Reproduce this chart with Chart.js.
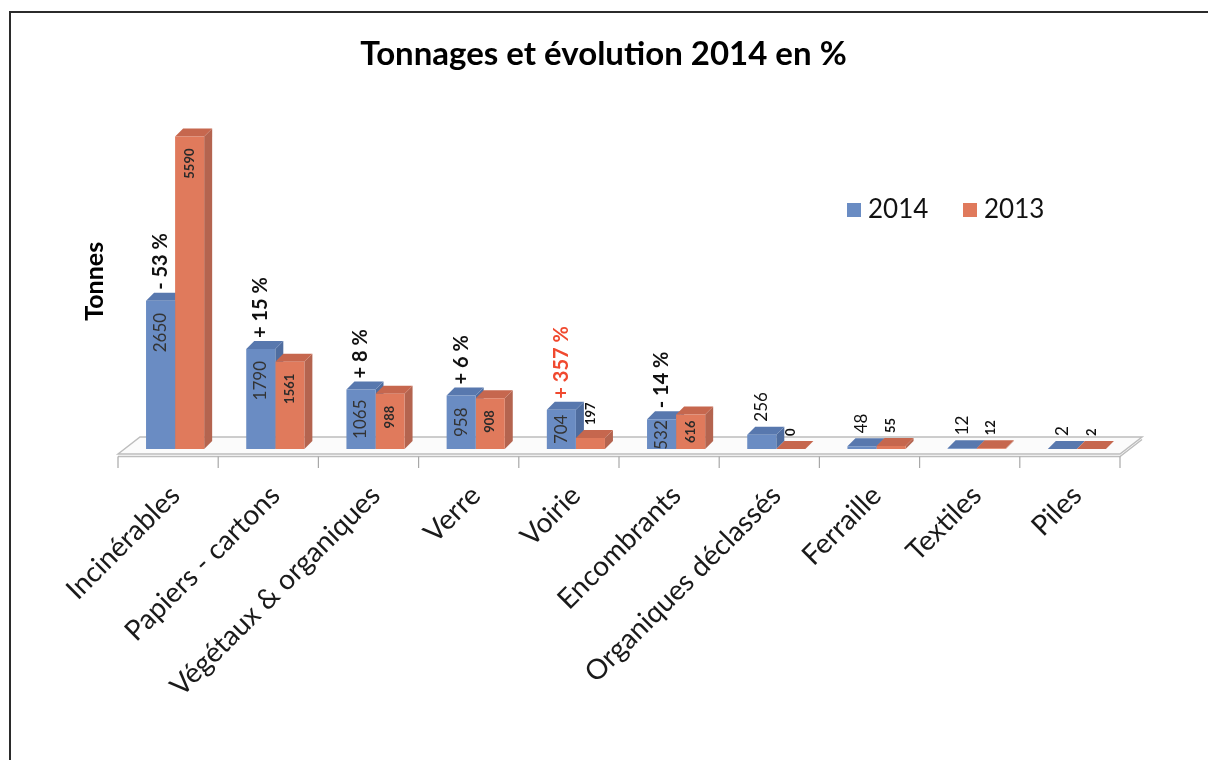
<!DOCTYPE html>
<html>
<head>
<meta charset="utf-8">
<script src="https://cdn.jsdelivr.net/npm/chart.js@4.4.0/dist/chart.umd.min.js"></script>
<style>
  html, body { margin: 0; padding: 0; background: #fff; }
  #wrap { width: 1208px; height: 760px; position: relative; }
</style>
</head>
<body>
<div id="wrap"><canvas id="tonnageChart" width="1208" height="760"></canvas></div>
<script>
const categories = ['Incinérables', 'Papiers - cartons', 'Végétaux & organiques', 'Verre', 'Voirie',
  'Encombrants', 'Organiques déclassés', 'Ferraille', 'Textiles', 'Piles'];
const tonnes2014 = [2650, 1790, 1065, 958, 704, 532, 256, 48, 12, 2];
const tonnes2013 = [5590, 1561, 988, 908, 197, 616, 0, 55, 12, 2];
const evolution = ['- 53 %', '+ 15 %', '+ 8 %', '+ 6 %', '+ 357 %', '- 14 %', '', '', '', ''];
const seriesNames = ['2014', '2013'];

// 3D look: depth offset of the bars and of the floor
const DX = 8, DY = 8;
const FLOOR_DX = 22, FLOOR_DY = 17;
const faces = [
  { front: '#6a8cc3', top: '#5878ae', side: '#4f6d9f' },
  { front: '#e07a5c', top: '#c6674e', side: '#b4644f' }
];

function drawFloor(chart) {
  const { ctx, chartArea } = chart;
  const n = categories.length;
  const step = (chartArea.right - chartArea.left) / n;
  const left = chartArea.left - 7, right = chartArea.right - 7;
  const front = chartArea.bottom + 5;
  ctx.save();
  ctx.fillStyle = '#fbfbfb';
  ctx.strokeStyle = '#bdbdbd';
  ctx.lineWidth = 1.5;
  ctx.beginPath();
  ctx.moveTo(left, front);
  ctx.lineTo(left + FLOOR_DX, front - FLOOR_DY);
  ctx.lineTo(right + FLOOR_DX, front - FLOOR_DY);
  ctx.lineTo(right, front);
  ctx.closePath();
  ctx.fill();
  ctx.stroke();
  // thin slab edge
  ctx.beginPath();
  ctx.moveTo(left, front + 2.5);
  ctx.lineTo(right, front + 2.5);
  ctx.lineTo(right + FLOOR_DX, front - FLOOR_DY + 2.5);
  ctx.stroke();
  // category separators
  ctx.strokeStyle = '#a8a8a8';
  ctx.lineWidth = 1.2;
  for (let i = 0; i <= n; i++) {
    const bx = left + i * step;
    ctx.beginPath();
    ctx.moveTo(bx, front + 2.5);
    ctx.lineTo(bx, front + 14);
    ctx.stroke();
  }
  ctx.restore();
}

const bars3d = {
  id: 'bars3d',
  beforeDatasetsDraw(chart) {
    const ctx = chart.ctx;
    drawFloor(chart);
    chart.data.datasets.forEach((ds, di) => {
      chart.getDatasetMeta(di).data.forEach(bar => {
        const { x, y, base, width } = bar.getProps(['x', 'y', 'base', 'width'], true);
        const l = x - width / 2, r = x + width / 2;
        ctx.fillStyle = faces[di].side;
        ctx.beginPath();
        ctx.moveTo(r, base);
        ctx.lineTo(r + DX, base - DY);
        ctx.lineTo(r + DX, y - DY);
        ctx.lineTo(r, y);
        ctx.closePath();
        ctx.fill();
        ctx.fillStyle = faces[di].top;
        ctx.beginPath();
        ctx.moveTo(l, y);
        ctx.lineTo(l + DX, y - DY);
        ctx.lineTo(r + DX, y - DY);
        ctx.lineTo(r, y);
        ctx.closePath();
        ctx.fill();
      });
    });
  }
};

const valueLabels = {
  id: 'valueLabels',
  afterDatasetsDraw(chart) {
    const ctx = chart.ctx;
    const fonts = ['17px Lato', 'bold 13px Lato'];
    const blueTops = [];
    chart.data.datasets.forEach((ds, di) => {
      chart.getDatasetMeta(di).data.forEach((bar, i) => {
        const { x, y, base } = bar.getProps(['x', 'y', 'base'], true);
        const text = String(ds.data[i]);
        ctx.save();
        ctx.font = fonts[di];
        const w = ctx.measureText(text).width;
        const h = base - y;
        let labelTop;
        if (h > w - 2) {
          // inside the bar, reading upwards
          ctx.fillStyle = di === 0 ? '#333' : '#2a2a2a';
          ctx.translate(x, y + Math.max(1, Math.min(12, (h - w) / 2)));
          ctx.rotate(-Math.PI / 2);
          ctx.textAlign = 'right';
          labelTop = y - DY;
        } else {
          ctx.fillStyle = '#111';
          ctx.translate(x, y - DY - 5);
          ctx.rotate(-Math.PI / 2);
          ctx.textAlign = 'left';
          labelTop = y - DY - 5 - w;
        }
        ctx.textBaseline = 'middle';
        ctx.fillText(text, 0, 0);
        ctx.restore();
        if (di === 0) blueTops[i] = { x, top: labelTop };
      });
    });
    // evolution 2014 / 2013 above the 2014 bar
    evolution.forEach((txt, i) => {
      if (!txt) return;
      const p = blueTops[i];
      ctx.save();
      ctx.font = 'bold 20px Lato';
      ctx.fillStyle = txt.indexOf('357') >= 0 ? '#f0492f' : '#111';
      ctx.translate(p.x, p.top - 3);
      ctx.rotate(-Math.PI / 2);
      ctx.textAlign = 'left';
      ctx.textBaseline = 'middle';
      ctx.fillText(txt, 0, 0);
      ctx.restore();
    });
  }
};

const legendAndFrame = {
  id: 'legendAndFrame',
  afterDraw(chart) {
    const ctx = chart.ctx;
    ctx.save();
    // frame (top and left edges)
    ctx.strokeStyle = '#2b2b2b';
    ctx.lineWidth = 2;
    ctx.beginPath();
    ctx.moveTo(10, 760);
    ctx.lineTo(10, 12);
    ctx.lineTo(1208, 12);
    ctx.stroke();
    // legend
    const items = [{ x: 847, color: faces[0].front }, { x: 963, color: faces[1].front }];
    ctx.font = '26px Lato';
    ctx.textBaseline = 'middle';
    items.forEach((it, k) => {
      ctx.fillStyle = it.color;
      ctx.fillRect(it.x, 203, 14, 14);
      ctx.fillStyle = '#111';
      ctx.fillText(seriesNames[k], it.x + 21, 210);
    });
    ctx.restore();
  }
};

new Chart(document.getElementById('tonnageChart'), {
  type: 'bar',
  data: {
    labels: categories,
    datasets: [
      { label: seriesNames[0], data: tonnes2014, backgroundColor: faces[0].front,
        categoryPercentage: 0.58, barPercentage: 1, borderWidth: 0 },
      { label: seriesNames[1], data: tonnes2013, backgroundColor: faces[1].front,
        categoryPercentage: 0.58, barPercentage: 1, borderWidth: 0 }
    ]
  },
  options: {
    responsive: false,
    animation: false,
    layout: { padding: { top: 16, left: 80, right: 81, bottom: 0 } },
    plugins: {
      legend: { display: false },
      tooltip: { enabled: false },
      title: {
        display: true,
        text: 'Tonnages et évolution 2014 en %',
        color: '#000',
        font: { family: 'Lato', size: 33, weight: 'bold' },
        padding: { top: 19, bottom: 39 }
      }
    },
    scales: {
      x: {
        grid: { display: false, drawTicks: false },
        border: { display: false },
        ticks: {
          autoSkip: false,
          minRotation: 45,
          maxRotation: 45,
          padding: 30,
          color: '#1a1a1a',
          font: { family: 'Lato', size: 28 }
        },
        afterFit(scale) { scale.height = 311; }
      },
      y: {
        min: 0,
        max: 6000,
        grid: { display: false },
        border: { display: false },
        ticks: { display: false },
        title: {
          display: true,
          text: 'Tonnes',
          color: '#000',
          font: { family: 'Lato', size: 25, weight: 'bold' },
          padding: { top: 0, bottom: 0 }
        },
        afterFit(scale) { scale.width = 45; }
      }
    }
  },
  plugins: [bars3d, valueLabels, legendAndFrame]
});
</script>
</body>
</html>
